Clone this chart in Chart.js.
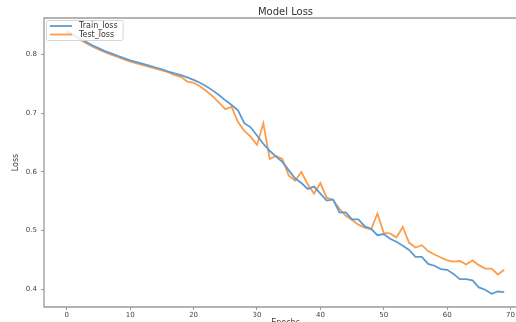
<!DOCTYPE html>
<html>
<head>
<meta charset="utf-8">
<script src="https://cdn.jsdelivr.net/npm/chart.js@4.4.0/dist/chart.umd.min.js"></script>
<style>
  html, body { margin: 0; padding: 0; background: #fff; overflow: hidden; }
</style>
</head>
<body>
<canvas id="myChart" width="516" height="322"></canvas>
<script>
const epochs = [
  0, 1, 2, 3, 4, 5, 6, 7, 8, 9, 10, 11, 12, 13, 14, 15, 16, 17, 18, 19,
  20, 21, 22, 23, 24, 25, 26, 27, 28, 29, 30, 31, 32, 33, 34, 35, 36, 37, 38, 39,
  40, 41, 42, 43, 44, 45, 46, 47, 48, 49, 50, 51, 52, 53, 54, 55, 56, 57, 58, 59,
  60, 61, 62, 63, 64, 65, 66, 67, 68, 69,
];
const trainLoss = [
  0.840, 0.834, 0.828, 0.822, 0.816, 0.811, 0.806, 0.802, 0.798, 0.794,
  0.790, 0.787, 0.784, 0.781, 0.778, 0.775, 0.771, 0.768, 0.765, 0.761,
  0.757, 0.752, 0.746, 0.739, 0.731, 0.722, 0.714, 0.705, 0.683, 0.676,
  0.662, 0.648, 0.636, 0.626, 0.617, 0.603, 0.589, 0.581, 0.571, 0.575,
  0.563, 0.551, 0.553, 0.531, 0.531, 0.519, 0.519, 0.507, 0.503, 0.492,
  0.494, 0.486, 0.481, 0.474, 0.467, 0.455, 0.455, 0.443, 0.440, 0.434,
  0.433, 0.426, 0.417, 0.417, 0.415, 0.403, 0.399, 0.392, 0.396, 0.395,
];
const testLoss = [
  0.838, 0.832, 0.826, 0.820, 0.814, 0.809, 0.804, 0.800, 0.796, 0.792,
  0.788, 0.785, 0.782, 0.779, 0.776, 0.773, 0.770, 0.765, 0.762, 0.754,
  0.752, 0.746, 0.738, 0.729, 0.718, 0.707, 0.711, 0.685, 0.670, 0.660,
  0.646, 0.683, 0.622, 0.627, 0.622, 0.594, 0.585, 0.600, 0.579, 0.563,
  0.581, 0.556, 0.552, 0.537, 0.525, 0.518, 0.510, 0.505, 0.502, 0.529,
  0.496, 0.495, 0.488, 0.506, 0.479, 0.471, 0.475, 0.465, 0.459, 0.454,
  0.449, 0.447, 0.448, 0.442, 0.449, 0.441, 0.435, 0.435, 0.425, 0.433,
];
const xTicks = [0, 10, 20, 30, 40, 50, 60, 70];
const yTicks = [0.4, 0.5, 0.6, 0.7, 0.8];

const spineColor = "#9a9a9a";
const textColor = "#444";
const fontFamily = "'DejaVu Sans', sans-serif";

Chart.defaults.font.family = fontFamily;

// the original axes run a bit past the right edge of the picture,
// so title and xlabel are centred on the full axes, not the visible part
const axesMid = 34.5;

// matplotlib style spines, title, xlabel and legend box inside the axes
const frameAndLegend = {
  id: "frameAndLegend",
  afterDatasetsDraw(chart) {
    const { ctx, chartArea: a, scales } = chart;
    ctx.save();
    ctx.strokeStyle = spineColor;
    ctx.lineWidth = 1.3;
    ctx.beginPath();
    ctx.moveTo(chart.width, a.top);
    ctx.lineTo(a.left, a.top);
    ctx.lineTo(a.left, a.bottom);
    ctx.lineTo(chart.width, a.bottom);
    ctx.stroke();

    const midX = scales.x.getPixelForValue(axesMid);
    ctx.textAlign = "center";
    ctx.textBaseline = "middle";
    ctx.fillStyle = "#333";
    ctx.font = "10px " + fontFamily;
    ctx.fillText("Model Loss", midX, 12);
    ctx.fillStyle = textColor;
    ctx.font = "8px " + fontFamily;
    ctx.fillText("Epochs", midX, 323);

    ctx.font = "8px " + fontFamily;
    const sets = chart.data.datasets;
    let tw = 0;
    sets.forEach((d) => { tw = Math.max(tw, ctx.measureText(d.label).width); });
    const bx = a.left + 2, by = a.top + 2;
    const bw = tw + 38, bh = 20;
    ctx.fillStyle = "rgba(255,255,255,0.85)";
    ctx.strokeStyle = "#d6d6d6";
    ctx.lineWidth = 1;
    ctx.beginPath();
    ctx.roundRect(bx + 0.5, by + 0.5, bw, bh, 2);
    ctx.fill();
    ctx.stroke();

    sets.forEach((d, i) => {
      const y = by + 6 + i * 8.5;
      ctx.strokeStyle = d.borderColor;
      ctx.lineWidth = d.borderWidth;
      ctx.beginPath();
      ctx.moveTo(bx + 4, y);
      ctx.lineTo(bx + 26, y);
      ctx.stroke();
      ctx.fillStyle = "#333";
      ctx.textBaseline = "middle";
      ctx.textAlign = "left";
      ctx.fillText(d.label, bx + 33, y);
    });
    ctx.restore();
  },
};

const ctx = document.getElementById("myChart").getContext("2d");
const myChart = new Chart(ctx, {
  type: "line",
  data: {
    datasets: [
      {
        label: "Train_loss",
        data: epochs.map((e, i) => ({ x: e, y: trainLoss[i] })),
        borderColor: "#5b9bd3",
        borderWidth: 1.8,
        pointRadius: 0,
        tension: 0,
      },
      {
        label: "Test_loss",
        data: epochs.map((e, i) => ({ x: e, y: testLoss[i] })),
        borderColor: "#ff9c4a",
        borderWidth: 1.8,
        pointRadius: 0,
        tension: 0,
      },
    ],
  },
  options: {
    responsive: false,
    animation: false,
    layout: { padding: { top: 18, right: 0, bottom: 0, left: 0 } },
    plugins: {
      legend: { display: false },
      tooltip: { enabled: false },
      title: { display: false },
    },
    scales: {
      x: {
        type: "linear",
        min: -3.6,
        max: 70.5,
        afterBuildTicks: (scale) => { scale.ticks = xTicks.map((v) => ({ value: v })); },
        afterFit: (scale) => { scale.height = 15; },
        border: { display: false },
        grid: { drawOnChartArea: false, drawTicks: true, tickLength: 3, color: spineColor },
        ticks: { color: textColor, font: { size: 7 }, padding: 1, maxRotation: 0 },
      },
      y: {
        min: 0.3696,
        max: 0.8624,
        afterBuildTicks: (scale) => { scale.ticks = yTicks.map((v) => ({ value: v })); },
        afterFit: (scale) => { scale.width = 44; },
        border: { display: false },
        grid: { drawOnChartArea: false, drawTicks: true, tickLength: 3, color: spineColor },
        ticks: { color: textColor, font: { size: 7 }, padding: 4, callback: (v) => v.toFixed(1) },
        title: { display: true, text: "Loss", color: textColor, font: { size: 8 }, padding: { top: 11, bottom: 0 } },
      },
    },
  },
  plugins: [frameAndLegend],
});
</script>
</body>
</html>
